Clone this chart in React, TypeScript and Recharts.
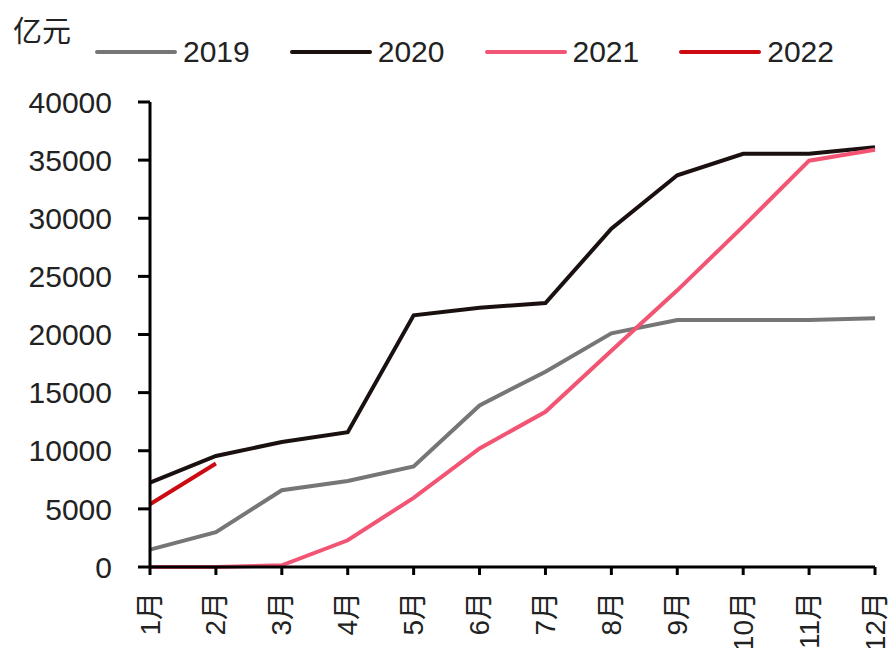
import React from 'react';
import { LineChart, Line, XAxis, YAxis, Legend } from 'recharts';

// Cumulative monthly amounts, 亿元
const months = ['1月', '2月', '3月', '4月', '5月', '6月', '7月', '8月', '9月', '10月', '11月', '12月'];
const values2019 = [1500, 3000, 6600, 7400, 8650, 13900, 16800, 20100, 21250, 21250, 21250, 21400];
const values2020 = [7250, 9550, 10750, 11600, 21650, 22300, 22700, 29100, 33700, 35550, 35550, 36100];
const values2021 = [0, 0, 150, 2300, 5950, 10200, 13350, 18600, 23800, 29300, 34950, 35900];
const values2022: (number | null)[] = [5400, 8900];
const yTicks = [0, 5000, 10000, 15000, 20000, 25000, 30000, 35000, 40000];

const seriesNames = ['2019', '2020', '2021', '2022'];
const seriesColors = ['#767676', '#1a1010', '#f25473', '#cc0a12'];

const data = months.map((m, i) => ({
  month: m,
  '2019': values2019[i],
  '2020': values2020[i],
  '2021': values2021[i],
  '2022': i < values2022.length ? values2022[i] : null,
}));

const FONT = '"Liberation Sans", Arial, "Noto Sans CJK SC", sans-serif';

const MonthTick = (props: any) => {
  const { x, y, payload } = props;
  return (
    <g transform={`translate(${x},${y})`}>
      <text
        transform="rotate(-90)"
        textAnchor="end"
        dominantBaseline="central"
        fontSize={28}
        fontFamily={FONT}
        fill="#222"
      >
        {payload.value}
      </text>
    </g>
  );
};

const UnitLabel = (props: any) => {
  const { viewBox } = props;
  return (
    <text
      x={13}
      y={viewBox.y - 73}
      dominantBaseline="central"
      fontSize={29}
      fontFamily='"Noto Sans CJK SC", sans-serif'
      fill="#222"
    >
      亿元
    </text>
  );
};

const LegendContent = (props: any) => {
  const { payload } = props;
  return (
    <div style={{ display: 'flex', alignItems: 'center', fontFamily: FONT }}>
      {payload.map((item: any) => (
        <div
          key={item.value}
          style={{ display: 'flex', alignItems: 'center', marginRight: 40 }}
        >
          <div style={{ width: 82, height: 4, background: item.color, borderRadius: 2 }} />
          <span style={{ marginLeft: 6, fontSize: 30, color: '#222', lineHeight: '34px' }}>
            {item.value}
          </span>
        </div>
      ))}
    </div>
  );
};

export default function App() {
  return (
    <div style={{ position: 'absolute', left: 0, top: 0, width: 896, height: 648, background: '#fff' }}>
      <LineChart
        width={896}
        height={648}
        data={data}
        margin={{ top: 102, right: 21, bottom: 0, left: 0 }}
      >
        <XAxis
          dataKey="month"
          height={81}
          interval={0}
          tickLine={{ stroke: '#000', strokeWidth: 3 }}
          axisLine={{ stroke: '#000', strokeWidth: 3 }}
          tickSize={8}
          tickMargin={17}
          tick={<MonthTick />}
        />
        <YAxis
          width={150}
          domain={[0, 40000]}
          ticks={yTicks}
          interval={0}
          tickSize={12}
          tickMargin={26}
          axisLine={{ stroke: '#000', strokeWidth: 3 }}
          tickLine={{ stroke: '#000', strokeWidth: 3 }}
          tick={{ fontSize: 30, fontFamily: FONT, fill: '#222' }}
          label={<UnitLabel />}
        />
        <Legend
          layout="vertical"
          align="center"
          verticalAlign="middle"
          wrapperStyle={{ top: 35, left: 95, width: 800 }}
          content={<LegendContent />}
        />
        {seriesNames.map((name, i) => (
          <Line
            key={name}
            type="linear"
            dataKey={name}
            stroke={seriesColors[i]}
            strokeWidth={4}
            dot={false}
            activeDot={false}
            isAnimationActive={false}
            connectNulls={false}
          />
        ))}
      </LineChart>
    </div>
  );
}
